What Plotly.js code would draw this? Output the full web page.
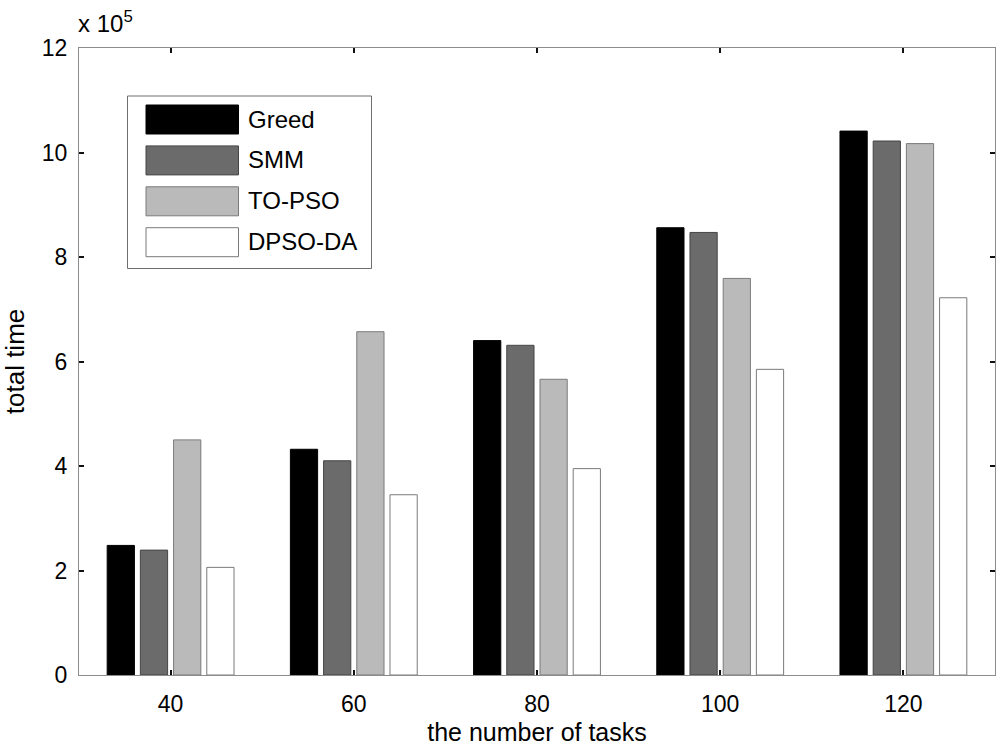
<!DOCTYPE html>
<html>
<head>
<meta charset="utf-8">
<script src="https://cdn.plot.ly/plotly-3.0.1.min.js"></script>
<style>
  body { margin: 0; background: #fff; }
  #graphgoeshere { width: 1000px; height: 746px; }
</style>
</head>
<body>
<div id="graphgoeshere"></div>
<script>
// data (values in units of 10^5)
var tasks = [40, 60, 80, 100, 120];
var seriesNames = ['Greed', 'SMM', 'TO-PSO', 'DPSO-DA'];
var greed = [2.48, 4.32, 6.40, 8.56, 10.41];
var smm = [2.39, 4.10, 6.31, 8.47, 10.22];
var topso = [4.50, 6.57, 5.66, 7.59, 10.17];
var dpsoda = [2.06, 3.45, 3.95, 5.85, 7.22];
var yTicks = [0, 2, 4, 6, 8, 10, 12];

var fills = ['#000000', '#6b6b6b', '#bababa', '#ffffff'];
var edges = ['#000000', '#454545', '#7a7a7a', '#7a7a7a'];
var font = 'Liberation Sans, Arial, sans-serif';

// plot area in pixels, used to place the hand drawn legend
var L = 79, R = 995, T = 48, B = 675;
function fx(px) { return (px - L) / (R - L); }
function fy(py) { return (B - py) / (B - T); }

function makeGraph() {
    var values = [greed, smm, topso, dpsoda];
    var data = [];
    for (var i = 0; i < values.length; i++) {
        data.push({
            x: tasks,
            y: values[i],
            name: seriesNames[i],
            type: 'bar',
            marker: { color: fills[i], line: { color: edges[i], width: 1 } },
            hoverinfo: 'x+y+name'
        });
    }

    // legend box like the matlab one
    var shapes = [{
        type: 'rect', xref: 'paper', yref: 'paper', layer: 'above',
        x0: fx(127.5), x1: fx(371.5), y0: fy(268.5), y1: fy(96),
        fillcolor: '#ffffff', line: { color: '#6e6e6e', width: 1 }
    }];
    var annotations = [];
    for (var j = 0; j < seriesNames.length; j++) {
        var top = 105 + j * 40.9;
        shapes.push({
            type: 'rect', xref: 'paper', yref: 'paper', layer: 'above',
            x0: fx(146), x1: fx(238.5), y0: fy(top + 29), y1: fy(top),
            fillcolor: fills[j], line: { color: edges[j], width: 1 }
        });
        annotations.push({
            xref: 'paper', yref: 'paper', x: fx(246), y: fy(top + 14),
            xanchor: 'left', yanchor: 'middle', showarrow: false,
            text: seriesNames[j], font: { family: font, size: 24, color: '#000' }
        });
    }
    annotations.push({
        xref: 'paper', yref: 'paper', x: fx(76), y: fy(22),
        xanchor: 'left', yanchor: 'middle', showarrow: false,
        text: 'x 10<sup>5</sup>', font: { family: font, size: 24, color: '#000' }
    });

    var layout = {
        width: 1000,
        height: 746,
        margin: { l: L, r: 1000 - R, t: T, b: 746 - B },
        paper_bgcolor: '#ffffff',
        plot_bgcolor: '#ffffff',
        font: { family: font, size: 23, color: '#000' },
        showlegend: false,
        barmode: 'group',
        bargap: 0.275,
        bargroupgap: 0.18,
        xaxis: {
            range: [30, 130],
            tickvals: tasks,
            ticktext: tasks.map(String),
            showgrid: false, zeroline: false,
            showline: true, linecolor: '#8c8c8c', linewidth: 1, mirror: 'ticks',
            ticks: 'inside', ticklen: 5, tickwidth: 2, tickcolor: '#111',
            ticklabelstandoff: 8,
            title: { text: 'the number of tasks', font: { size: 25 }, standoff: 12 }
        },
        yaxis: {
            range: [0, 12],
            tickvals: yTicks,
            showgrid: false, zeroline: false,
            showline: true, linecolor: '#8c8c8c', linewidth: 1, mirror: 'ticks',
            ticks: 'inside', ticklen: 5, tickwidth: 2, tickcolor: '#111',
            ticklabelstandoff: 6,
            title: { text: 'total time', font: { size: 26 }, standoff: 12 }
        },
        shapes: shapes,
        annotations: annotations
    };

    Plotly.newPlot('graphgoeshere', data, layout, { staticPlot: true });
}

makeGraph();
</script>
</body>
</html>
